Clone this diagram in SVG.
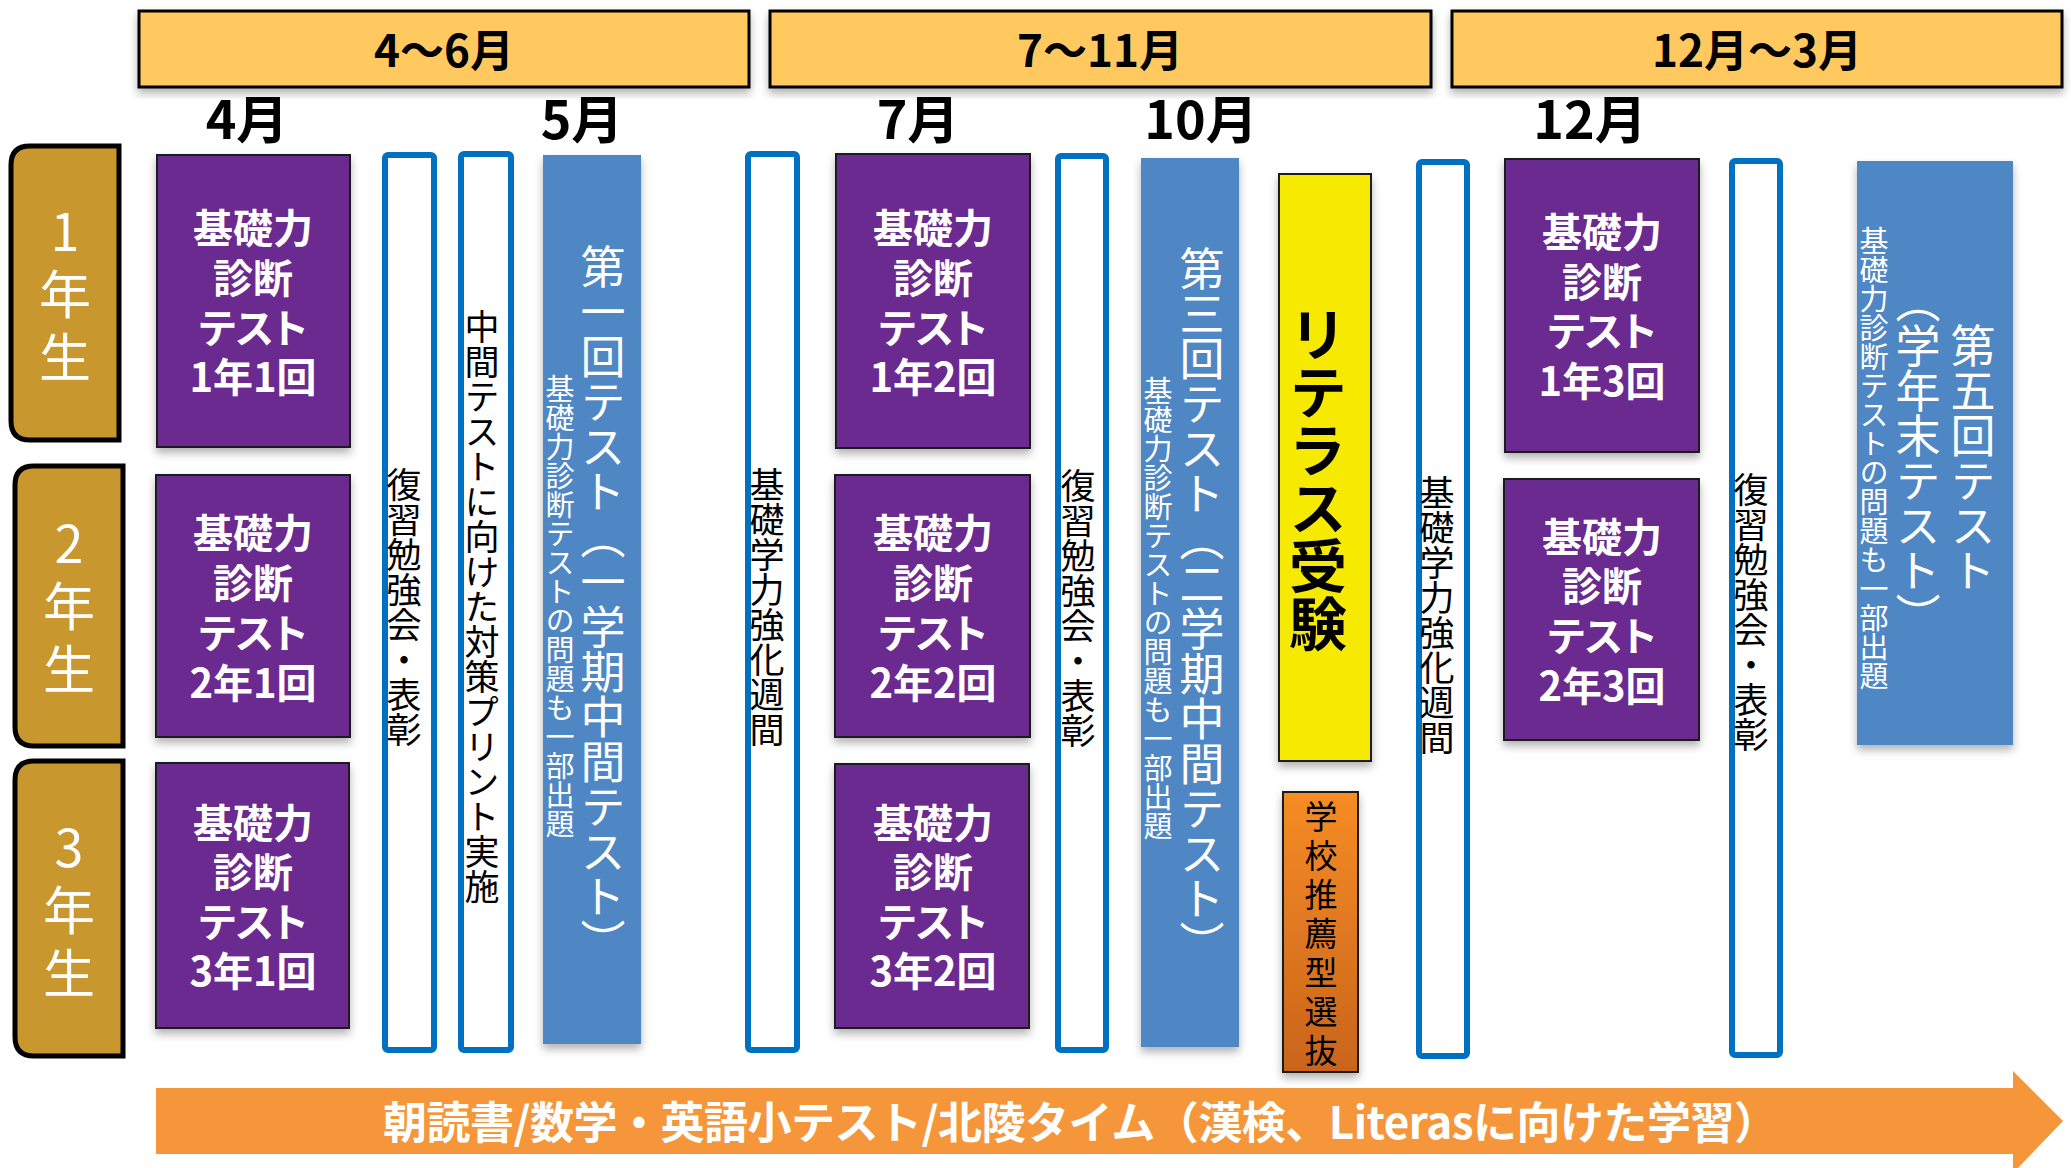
<svg xmlns="http://www.w3.org/2000/svg" width="2071" height="1168" viewBox="0 0 2071 1168">
<defs>
<filter id="sh" x="-20%" y="-10%" width="140%" height="125%">
<feDropShadow dx="0" dy="5" stdDeviation="4" flood-color="#000" flood-opacity="0.3"/>
</filter>
<linearGradient id="og" x1="0" y1="0" x2="0" y2="1">
<stop offset="0" stop-color="#F68C22"/>
<stop offset="1" stop-color="#C9641E"/>
</linearGradient>
<style>
text{font-family:"Noto Sans CJK JP","Noto Sans",sans-serif}
.hdr{fill:#FFC95F;stroke:#000;stroke-width:3;filter:url(#sh)}
.ht{font-size:44px;font-weight:700;fill:#000;text-anchor:middle}
.mo{font-size:52px;font-weight:700;fill:#000;text-anchor:middle}
.yr{fill:#C8972D;stroke:#000;stroke-width:5}
.yt{font-size:52px;fill:#fff;writing-mode:vertical-rl;text-orientation:upright;letter-spacing:11px}
.pb{fill:#6A2C90;stroke:#1a1a1a;stroke-width:2;filter:url(#sh)}
.pt{font-size:40px;font-weight:700;fill:#fff;text-anchor:middle;font-feature-settings:"palt"}
.ob{fill:#fff;stroke:#0070C0;stroke-width:6}
.bb{fill:#5087C5;filter:url(#sh)}
.v{writing-mode:vertical-rl;text-anchor:middle}
.vk{font-size:35px;fill:#000}
.vw{font-size:45px;fill:#fff}
.vs{font-size:29px;fill:#fff}
</style>
</defs>
<rect width="2071" height="1168" fill="#fff"/>

<g id="header-apr-jun"><rect class="hdr" x="139" y="11" width="610" height="76"/><text class="ht" x="444" y="67">4～6月</text></g>
<g id="header-jul-nov"><rect class="hdr" x="770" y="11" width="661" height="76"/><text class="ht" x="1100" y="67">7～11月</text></g>
<g id="header-dec-mar"><rect class="hdr" x="1452" y="11" width="610" height="76"/><text class="ht" x="1757" y="67">12月～3月</text></g>

<g id="month-labels">
<text class="mo" x="247" y="139">4月</text>
<text class="mo" x="582" y="139">5月</text>
<text class="mo" x="918" y="139">7月</text>
<text class="mo" x="1201" y="139">10月</text>
<text class="mo" x="1590" y="139">12月</text>
</g>

<g id="year1"><path class="yr" d="M30 146 H119 V440 H30 Q11 440 11 421 V165 Q11 146 30 146 Z"/>
<text class="yt" x="65" y="205">1年生</text></g>
<g id="year2"><path class="yr" d="M34 466 H123 V746 H34 Q15 746 15 727 V485 Q15 466 34 466 Z"/>
<text class="yt" x="69" y="517">2年生</text></g>
<g id="year3"><path class="yr" d="M34 761 H123 V1056 H34 Q15 1056 15 1037 V780 Q15 761 34 761 Z"/>
<text class="yt" x="69" y="821">3年生</text></g>

<g id="test-1-1"><rect class="pb" x="157" y="155" width="193" height="292"/>
<text class="pt"><tspan x="253" y="243">基礎力</tspan><tspan x="253" y="293">診断</tspan><tspan x="253" y="343">テスト</tspan><tspan x="253" y="392">1年1回</tspan></text></g>
<g id="test-2-1"><rect class="pb" x="156" y="475" width="194" height="262"/>
<text class="pt"><tspan x="253" y="548">基礎力</tspan><tspan x="253" y="598">診断</tspan><tspan x="253" y="648">テスト</tspan><tspan x="253" y="698">2年1回</tspan></text></g>
<g id="test-3-1"><rect class="pb" x="156" y="763" width="193" height="265"/>
<text class="pt"><tspan x="253" y="838">基礎力</tspan><tspan x="253" y="887">診断</tspan><tspan x="253" y="937">テスト</tspan><tspan x="253" y="986">3年1回</tspan></text></g>

<g id="test-1-2"><rect class="pb" x="836" y="154" width="194" height="294"/>
<text class="pt"><tspan x="933" y="243">基礎力</tspan><tspan x="933" y="293">診断</tspan><tspan x="933" y="343">テスト</tspan><tspan x="933" y="392">1年2回</tspan></text></g>
<g id="test-2-2"><rect class="pb" x="835" y="475" width="195" height="262"/>
<text class="pt"><tspan x="933" y="548">基礎力</tspan><tspan x="933" y="598">診断</tspan><tspan x="933" y="648">テスト</tspan><tspan x="933" y="698">2年2回</tspan></text></g>
<g id="test-3-2"><rect class="pb" x="835" y="764" width="194" height="264"/>
<text class="pt"><tspan x="933" y="838">基礎力</tspan><tspan x="933" y="887">診断</tspan><tspan x="933" y="937">テスト</tspan><tspan x="933" y="986">3年2回</tspan></text></g>

<g id="test-1-3"><rect class="pb" x="1505" y="159" width="194" height="293"/>
<text class="pt"><tspan x="1602" y="247">基礎力</tspan><tspan x="1602" y="297">診断</tspan><tspan x="1602" y="346">テスト</tspan><tspan x="1602" y="396">1年3回</tspan></text></g>
<g id="test-2-3"><rect class="pb" x="1504" y="479" width="195" height="261"/>
<text class="pt"><tspan x="1602" y="552">基礎力</tspan><tspan x="1602" y="601">診断</tspan><tspan x="1602" y="651">テスト</tspan><tspan x="1602" y="701">2年3回</tspan></text></g>

<g id="review-1"><rect class="ob" x="385" y="155" width="49" height="895" rx="3"/>
<text class="v vk" x="404" y="607">復習勉強会・表彰</text></g>
<g id="midterm-prep"><rect class="ob" x="461" y="154" width="50" height="896" rx="3"/>
<text class="v vk" x="482" y="607">中間テストに向けた対策プリント実施</text></g>
<g id="test-round-1"><rect class="bb" x="543" y="155" width="98" height="889"/>
<text class="v vw" x="603" y="604">第一回テスト（一学期中間テスト）</text>
<text class="v vs" x="560" y="606">基礎力診断テストの問題も一部出題</text></g>
<g id="basic-week-1"><rect class="ob" x="748" y="154" width="49" height="896" rx="3"/>
<text class="v vk" x="767" y="607">基礎学力強化週間</text></g>
<g id="review-2"><rect class="ob" x="1058" y="156" width="48" height="894" rx="3"/>
<text class="v vk" x="1078" y="608">復習勉強会・表彰</text></g>
<g id="test-round-3"><rect class="bb" x="1141" y="158" width="98" height="889"/>
<text class="v vw" x="1202" y="606">第三回テスト（二学期中間テスト）</text>
<text class="v vs" x="1158" y="608">基礎力診断テストの問題も一部出題</text></g>
<g id="literas"><rect x="1279" y="174" width="92" height="587" fill="#F5EA00" stroke="#1a1a1a" stroke-width="2" filter="url(#sh)"/>
<text class="v" x="1318" y="479" font-size="58" font-weight="700" fill="#000">リテラス受験</text></g>
<g id="school-recommend"><rect x="1283" y="792" width="75" height="280" fill="url(#og)" stroke="#1a1a1a" stroke-width="2" filter="url(#sh)"/>
<text class="v" x="1321" y="936" font-size="33" letter-spacing="6" fill="#000">学校推薦型選抜</text></g>
<g id="basic-week-2"><rect class="ob" x="1419" y="162" width="48" height="894" rx="3"/>
<text class="v vk" x="1437" y="615">基礎学力強化週間</text></g>
<g id="review-3"><rect class="ob" x="1732" y="161" width="48" height="894" rx="3"/>
<text class="v vk" x="1751" y="612">復習勉強会・表彰</text></g>
<g id="test-round-5"><rect class="bb" x="1857" y="161" width="156" height="584"/>
<text class="v vw" x="1973" y="458">第五回テスト</text>
<text class="v vw" x="1918" y="458">（学年末テスト）</text>
<text class="v vs" x="1874" y="458">基礎力診断テストの問題も一部出題</text></g>

<g id="connectors">
<g id="timeline-arrow"><path d="M156 1088 H2013 V1071 L2063 1121 L2013 1173 V1154 H156 Z" fill="#F5963B"/>
<text x="383" y="1139" font-size="44" font-weight="700" fill="#fff" textLength="1395" lengthAdjust="spacing">朝読書/数学・英語小テスト/北陵タイム（漢検、Literasに向けた学習）</text></g>
</g>
</svg>
